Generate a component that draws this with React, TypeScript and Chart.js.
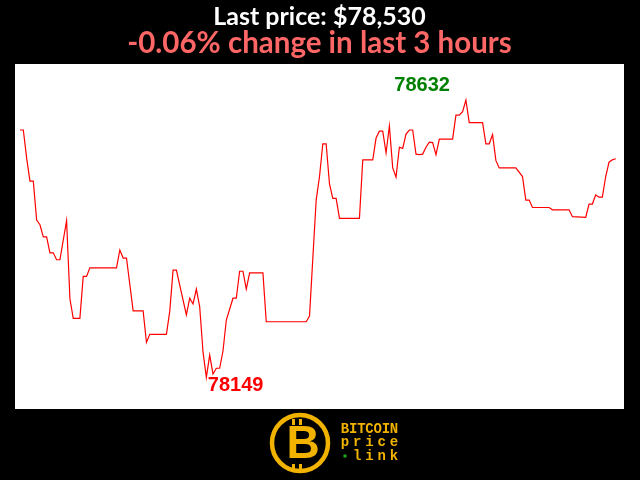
import React, { useEffect, useRef } from "react";
import { Chart, registerables } from "chart.js";

Chart.register(...registerables);

const TITLE = "Last price: $78,530";
const SUBTITLE = "-0.06% change in last 3 hours";

// minute index within the 3-hour window (vertices of the price line)
const minutes = [
  0, 1, 2, 3, 4, 5, 6, 7, 8, 9, 10, 11, 12, 14, 15, 16, 18, 19, 20, 21, 29, 30, 31, 32, 34, 37, 38, 39, 44, 45,
  46, 47, 48, 50, 51, 52, 53, 54, 55, 56, 57, 58, 59, 60, 61, 62, 64, 65, 66, 67, 68, 69, 73, 74, 86, 87, 89, 90,
  91, 92, 93, 94, 95, 96, 102, 103, 106, 107, 108, 109, 110, 111, 112, 113, 114, 115, 116, 117, 118, 119, 120,
  121, 122, 123, 124, 125, 126, 130, 131, 132, 133, 134, 135, 139, 140, 141, 142, 143, 144, 149, 151, 152, 153,
  154, 159, 160, 165, 166, 170, 171, 172, 173, 174, 175, 176, 177, 178, 179,
];

// BTC price (USD)
const prices = [
  78580, 78580, 78531, 78491, 78491, 78423, 78415, 78394, 78394, 78366, 78366, 78354, 78354, 78422, 78286, 78252,
  78252, 78325, 78325, 78340, 78340, 78371, 78357, 78357, 78265, 78265, 78210, 78224, 78224, 78264, 78336, 78336,
  78310, 78258, 78287, 78277, 78303, 78272, 78193, 78149, 78188, 78155, 78165, 78165, 78195, 78249, 78287, 78287,
  78334, 78334, 78303, 78331, 78331, 78246, 78246, 78256, 78458, 78499, 78556, 78556, 78486, 78461, 78461, 78426,
  78426, 78528, 78528, 78566, 78578, 78578, 78540, 78587, 78514, 78498, 78550, 78548, 78573, 78580, 78580, 78538,
  78537, 78538, 78550, 78559, 78558, 78537, 78564, 78564, 78606, 78606, 78612, 78632, 78593, 78593, 78556, 78556,
  78572, 78527, 78514, 78514, 78499, 78458, 78458, 78445, 78445, 78441, 78441, 78429, 78428, 78451, 78451, 78467,
  78463, 78463, 78499, 78524, 78528, 78530,
];

const LOGO_LINES = ["BITCOIN", "price", "\u2022link"];

const X_MIN = -1.5;
const X_MAX = 181.5;
const Y_MIN = 78094;
const Y_MAX = 78695;

const bgPlugin = {
  id: "bg",
  beforeDraw(chart: any) {
    const { ctx, chartArea } = chart;
    ctx.save();
    ctx.fillStyle = "#000";
    ctx.fillRect(0, 0, chart.width, chart.height);
    ctx.fillStyle = "#fff";
    ctx.fillRect(chartArea.left, chartArea.top, chartArea.right - chartArea.left, chartArea.bottom - chartArea.top);
    ctx.restore();
  },
};

const extremaPlugin = {
  id: "extrema",
  afterDatasetsDraw(chart: any) {
    const { ctx, scales } = chart;
    let maxI = 0;
    let minI = 0;
    prices.forEach((p, i) => {
      if (p > prices[maxI]) maxI = i;
      if (p < prices[minI]) minI = i;
    });
    ctx.save();
    ctx.font = 'bold 20px "Liberation Sans"';
    ctx.textBaseline = "alphabetic";
    const mx = scales.x.getPixelForValue(minutes[maxI]);
    const my = scales.y.getPixelForValue(prices[maxI]);
    ctx.fillStyle = "#008000";
    ctx.textAlign = "right";
    ctx.fillText(String(prices[maxI]), mx - 16, my - 9.5);
    const nx = scales.x.getPixelForValue(minutes[minI]);
    const ny = scales.y.getPixelForValue(prices[minI]);
    ctx.fillStyle = "#ff0000";
    ctx.textAlign = "left";
    ctx.fillText(String(prices[minI]), nx + 1.5, ny + 13.5);
    ctx.restore();
  },
};

const logoPlugin = {
  id: "logo",
  afterDraw(chart: any) {
    const { ctx } = chart;
    const gold = "#f2b200";
    ctx.save();
    // coin ring
    ctx.beginPath();
    ctx.arc(300, 443, 28, 0, Math.PI * 2);
    ctx.lineWidth = 4.5;
    ctx.strokeStyle = gold;
    ctx.stroke();
    // B mark
    ctx.fillStyle = gold;
    ctx.font = 'bold 46px "Liberation Sans"';
    ctx.textAlign = "center";
    ctx.textBaseline = "middle";
    ctx.fillText("B", 303, 445);
    ctx.fillRect(292, 419, 3, 6);
    ctx.fillRect(299, 419, 3, 6);
    ctx.fillRect(292, 464, 3, 5);
    ctx.fillRect(299, 464, 3, 5);
    // text lines
    ctx.font = 'bold 14px "Liberation Mono"';
    ctx.textBaseline = "middle";
    const left = 345;
    const right = 394;
    const ys = [429, 442, 456];
    LOGO_LINES.forEach((line, li) => {
      const chars = Array.from(line);
      const n = chars.length;
      chars.forEach((ch, ci) => {
        const cx = n > 1 ? left + ((right - left) * ci) / (n - 1) : left;
        if (ch === "\u2022") {
          ctx.fillStyle = "#22aa22";
          ctx.fillRect(cx - 1.5, ys[li] - 1.5, 3, 3);
        } else {
          ctx.fillStyle = gold;
          ctx.fillText(ch, cx, ys[li]);
        }
      });
    });
    ctx.restore();
  },
};

export default function App() {
  const ref = useRef<HTMLCanvasElement | null>(null);

  useEffect(() => {
    document.body.style.margin = "0";
    document.body.style.background = "#000";
    const canvas = ref.current;
    if (!canvas) return;
    const chart = new Chart(canvas, {
      type: "line",
      data: {
        datasets: [
          {
            data: minutes.map((m, i) => ({ x: m, y: prices[i] })),
            borderColor: "#ff0000",
            borderWidth: 1.2,
            pointRadius: 0,
            tension: 0,
            fill: false,
          },
        ],
      },
      options: {
        animation: false,
        responsive: false,
        devicePixelRatio: 1,
        layout: { padding: { top: 0, left: 15, right: 16, bottom: 71 } },
        scales: {
          x: { type: "linear", display: false, min: X_MIN, max: X_MAX },
          y: { type: "linear", display: false, min: Y_MIN, max: Y_MAX },
        },
        plugins: {
          legend: { display: false },
          tooltip: { enabled: false },
          title: {
            display: true,
            text: TITLE,
            color: "#ffffff",
            font: { family: "Lato", size: 25, weight: "bold", lineHeight: 1 },
            padding: { top: 4, bottom: 0 },
          },
          subtitle: {
            display: true,
            text: SUBTITLE,
            color: "#ff6666",
            font: { family: "Lato", size: 29.5, weight: "bold", lineHeight: 1 },
            padding: { top: 0, bottom: 5.5 },
          },
        },
      },
      plugins: [bgPlugin, extremaPlugin, logoPlugin],
    });
    return () => chart.destroy();
  }, []);

  return (
    <div style={{ position: "fixed", left: 0, top: 0, width: 640, height: 480, background: "#000" }}>
      <canvas ref={ref} width={640} height={480} style={{ display: "block" }} />
    </div>
  );
}
